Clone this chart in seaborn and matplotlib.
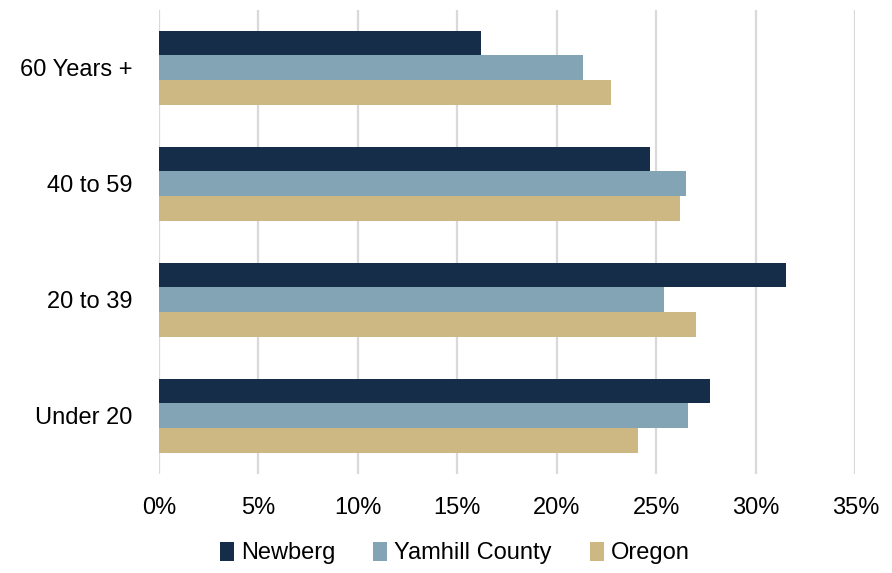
import seaborn as sns
import matplotlib.pyplot as plt
import pandas as pd
from matplotlib.ticker import PercentFormatter

groups = ["60 Years +", "40 to 59", "20 to 39", "Under 20"]
areas = ["Newberg", "Yamhill County", "Oregon"]
newberg = [16.2, 24.7, 31.5, 27.7]
yamhill = [21.3, 26.5, 25.4, 26.6]
oregon = [22.7, 26.2, 27.0, 24.1]
colors = ["#152d48", "#83a4b5", "#cdb884"]

df = pd.DataFrame({
    "group": groups * 3,
    "area": [a for a in areas for _ in groups],
    "pct": newberg + yamhill + oregon,
})

sns.set_style("white")
plt.rcParams['font.family'] = ['Liberation Sans', 'DejaVu Sans']

fig = plt.figure(figsize=(8.92, 5.73), dpi=100)
ax = fig.add_axes([0.178, 0.173, 0.781, 0.81])

sns.barplot(data=df, y="group", x="pct", hue="area", order=groups,
            hue_order=areas, palette=colors, width=0.64, orient="h",
            saturation=1, ax=ax, zorder=3, linewidth=0)

ax.set_xlim(0, 35)
ax.set_xticks(range(0, 36, 5))
ax.xaxis.set_major_formatter(PercentFormatter(decimals=0))
ax.grid(axis="x", color="#d9d9d9", linewidth=1.6, zorder=0)
ax.set_axisbelow(True)
sns.despine(left=True, bottom=True)
ax.tick_params(length=0, labelsize=17, colors="#000000")
ax.tick_params(axis="x", pad=17)
ax.tick_params(axis="y", pad=19)
ax.set_xlabel("")
ax.set_ylabel("")

leg = ax.legend(loc="upper center", bbox_to_anchor=(0.425, -0.1), ncol=3,
                frameon=False, fontsize=17, handlelength=0.6, handleheight=0.9,
                handletextpad=0.3, columnspacing=1.6)
for t in leg.get_texts():
    t.set_color("#000000")

plt.savefig("out.png", dpi=100)
